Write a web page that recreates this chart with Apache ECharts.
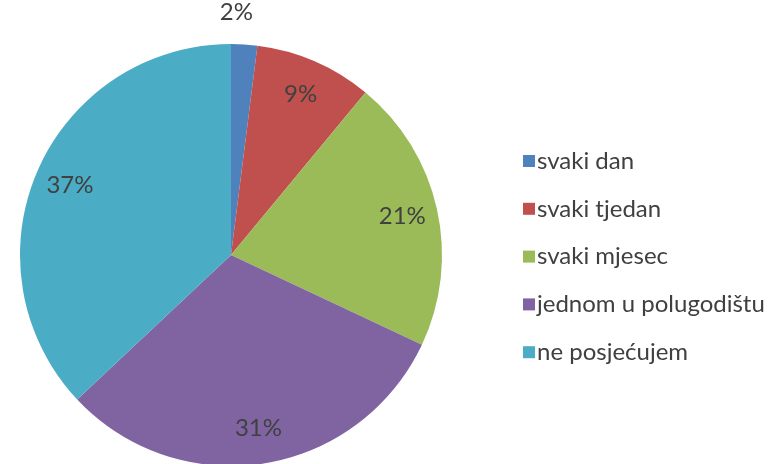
<!DOCTYPE html>
<html>
<head>
<meta charset="utf-8">
<script src="https://cdn.jsdelivr.net/npm/echarts@6/dist/echarts.min.js"></script>
<style>
  html, body { margin: 0; padding: 0; background: #fff; }
  #chart { width: 781px; height: 464px; }
</style>
</head>
<body>
<div id="chart"></div>
<script>
var categories = ['svaki dan', 'svaki tjedan', 'svaki mjesec', 'jednom u polugodištu', 'ne posjećujem'];
var values = [2, 9, 21, 31, 37];
var colors = ['#4F81BD', '#C0504D', '#9BBB59', '#8064A2', '#4BACC6'];

var pieData = categories.map(function (name, i) {
  return { name: name, value: values[i], itemStyle: { color: colors[i] } };
});

// transparent copy only used to place the labels further out than the default
var labelData = categories.map(function (name, i) {
  var item = { name: name, value: values[i], itemStyle: { color: 'rgba(0,0,0,0)' } };
  if (i === 0) {
    item.label = { position: 'outside' };
  }
  return item;
});

var chart = echarts.init(document.getElementById('chart'));
chart.setOption({
  animation: false,
  legend: {
    orient: 'vertical',
    left: 518,
    top: 144,
    itemWidth: 12,
    itemHeight: 12,
    itemGap: 23.8,
    icon: 'rect',
    textStyle: { fontFamily: 'Lato', fontSize: 24, color: '#404040', padding: [0, 0, 0, -3] },
    data: categories
  },
  series: [
    {
      type: 'pie',
      center: [231, 255],
      radius: 211,
      startAngle: 90,
      clockwise: true,
      label: { show: false },
      labelLine: { show: false },
      emphasis: { disabled: true },
      data: pieData
    },
    {
      type: 'pie',
      center: [231, 255],
      radius: [134, 211],
      startAngle: 90,
      clockwise: true,
      silent: true,
      legendHoverLink: false,
      label: {
        show: true,
        position: 'inside',
        formatter: '{c}%',
        fontFamily: 'Lato',
        fontSize: 24,
        color: '#404040'
      },
      labelLine: { show: false, length: 18, length2: 0 },
      labelLayout: function (params) {
        if (params.dataIndex === 0) {
          return { align: 'center', dx: -14, dy: -14 };
        }
        return {};
      },
      emphasis: { disabled: true },
      data: labelData
    }
  ]
});
</script>
</body>
</html>
